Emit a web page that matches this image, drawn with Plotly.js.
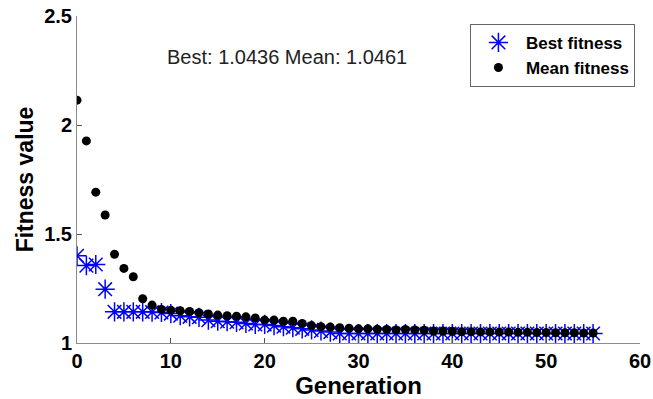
<!DOCTYPE html>
<html>
<head>
<meta charset="utf-8">
<script src="https://cdn.plot.ly/plotly-3.0.1.min.js"></script>
<style>html,body{margin:0;padding:0;background:#fff;}#chart{width:653px;height:399px;}</style>
</head>
<body>
<div id="chart"></div>
<script>
var generations = [];
for (var g = 0; g <= 55; g++) generations.push(g);

var bestFitness = [
  1.400, 1.355, 1.360, 1.247, 1.143, 1.143, 1.143, 1.143, 1.142, 1.140,
  1.135, 1.125, 1.120, 1.118, 1.105, 1.100, 1.098, 1.095, 1.090, 1.085,
  1.085, 1.080, 1.075, 1.070, 1.065, 1.060, 1.055, 1.050, 1.0436, 1.0436,
  1.0436, 1.0436, 1.0436, 1.0436, 1.0436, 1.0436, 1.0436, 1.0436, 1.0436, 1.0436,
  1.0436, 1.0436, 1.0436, 1.0436, 1.0436, 1.0436, 1.0436, 1.0436, 1.0436, 1.0436,
  1.0436, 1.0436, 1.0436, 1.0436, 1.0436, 1.0436
];

var meanFitness = [
  2.114, 1.927, 1.692, 1.587, 1.407, 1.342, 1.304, 1.203, 1.174, 1.154,
  1.150, 1.148, 1.145, 1.139, 1.133, 1.128, 1.125, 1.123, 1.120, 1.115,
  1.105, 1.105, 1.100, 1.100, 1.090, 1.080, 1.075, 1.073, 1.070, 1.068,
  1.065, 1.065, 1.063, 1.062, 1.060, 1.062, 1.060, 1.058, 1.055, 1.055,
  1.054, 1.052, 1.052, 1.051, 1.051, 1.050, 1.050, 1.049, 1.049, 1.048,
  1.048, 1.047, 1.047, 1.047, 1.046, 1.0461
];

var xTicks = [0, 10, 20, 30, 40, 50, 60];
var yTicks = [1, 1.5, 2, 2.5];
var yTickLabels = ['1', '1.5', '2', '2.5'];
var titleText = 'Best: 1.0436 Mean: 1.0461';

var traces = [
  {
    x: generations, y: bestFitness, type: 'scatter', mode: 'markers',
    name: 'Best fitness',
    marker: {symbol: 'asterisk-open', size: 16, color: '#0000ff', line: {color: '#0000ff', width: 1.5}}
  },
  {
    x: generations, y: meanFitness, type: 'scatter', mode: 'markers',
    name: 'Mean fitness',
    marker: {symbol: 'circle', size: 9, color: '#000000'}
  }
];

var layout = {
  width: 653, height: 399,
  margin: {l: 77, r: 13, t: 16, b: 56},
  paper_bgcolor: '#ffffff', plot_bgcolor: '#ffffff',
  font: {family: 'Liberation Sans, Arial, sans-serif', color: '#000'},
  xaxis: {
    range: [0, 60], tickvals: xTicks, ticktext: xTicks.map(String),
    showgrid: false, zeroline: false, showline: true, linecolor: '#8c8c8c', linewidth: 1,
    ticks: 'inside', ticklen: 5, tickcolor: '#555',
    tickfont: {size: 20, weight: 'bold', color: '#000'},
    title: {text: 'Generation', font: {size: 24, weight: 'bold', color: '#000'}, standoff: 0}
  },
  yaxis: {
    range: [1, 2.5], tickvals: yTicks, ticktext: yTickLabels,
    showgrid: false, zeroline: false, showline: true, linecolor: '#8c8c8c', linewidth: 1,
    ticks: 'inside', ticklen: 5, tickcolor: '#555',
    tickfont: {size: 20, weight: 'bold', color: '#000'},
    title: {text: 'Fitness value', font: {size: 23, weight: 'bold', color: '#000'}, standoff: 4}
  },
  showlegend: true,
  legend: {
    x: 0.991, y: 0.976, xanchor: 'right', yanchor: 'top',
    bgcolor: '#ffffff', bordercolor: '#666', borderwidth: 1,
    font: {size: 17, weight: 'bold', color: '#000'},
    itemwidth: 45, tracegroupgap: 0
  },
  annotations: [{
    text: titleText, xref: 'paper', yref: 'paper', x: 0.373, y: 0.875,
    xanchor: 'center', yanchor: 'middle', showarrow: false,
    font: {size: 20, color: '#222'}
  }]
};

Plotly.newPlot('chart', traces, layout, {displayModeBar: false, staticPlot: true});
</script>
</body>
</html>
